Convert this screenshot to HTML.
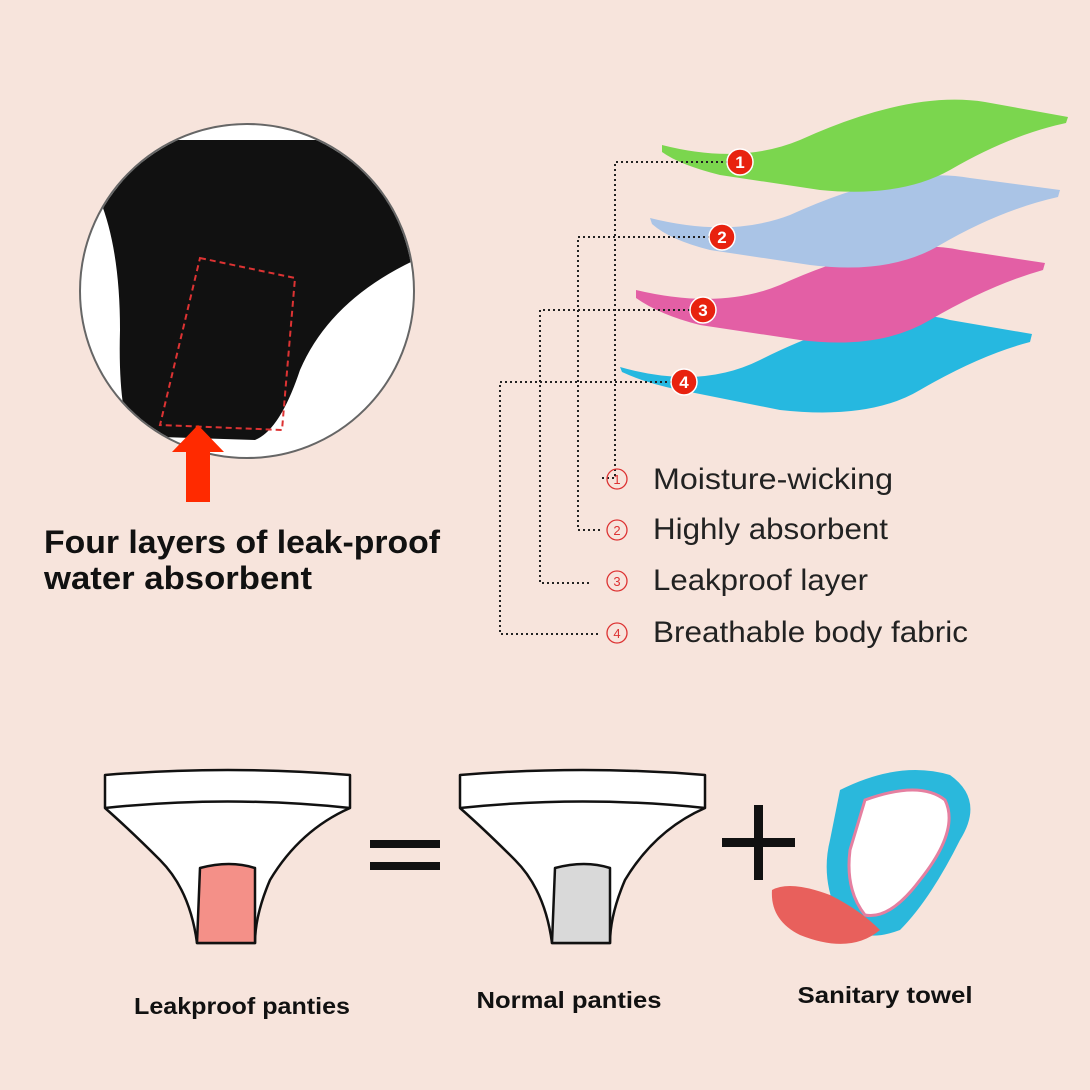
<!DOCTYPE html>
<html><head><meta charset="utf-8"><style>
html,body{margin:0;padding:0;background:#f7e4dc;}
svg{display:block}
text{font-family:"Liberation Sans","DejaVu Sans",sans-serif}
</style></head><body>
<svg width="1090" height="1090" viewBox="0 0 1090 1090" xmlns="http://www.w3.org/2000/svg">
<rect width="1090" height="1090" fill="#f7e4dc"/>
<defs><clipPath id="c"><circle cx="247" cy="291" r="166"/></clipPath></defs>
<circle cx="247" cy="291" r="167" fill="#fff" stroke="#666" stroke-width="2"/>
<g clip-path="url(#c)">
<path d="M100 140 L390 140 L415 260 Q330 300 300 370 Q280 430 255 440 L130 436 Q118 400 120 330 Q120 250 100 200 Z" fill="#111"/>
<path d="M200 258 L295 278 L282 430 L160 425 Z" fill="none" stroke="#d33" stroke-width="2" stroke-dasharray="6,4"/>
</g>
<polygon points="198,425 172,452 186,452 186,502 210,502 210,452 224,452" fill="#ff2a00"/>
<text x="44" y="553" font-size="32" font-weight="bold" fill="#111" textLength="396" lengthAdjust="spacingAndGlyphs">Four layers of leak-proof</text>
<text x="44" y="589" font-size="32" font-weight="bold" fill="#111" textLength="268" lengthAdjust="spacingAndGlyphs">water absorbent</text>
<!-- layers -->
<path d="M620 367 Q700 390 760 360 Q880 300 950 320 L1032 334 L1030 342 Q980 355 920 390 Q870 420 780 410 L690 392 Q650 385 622 372 Z" fill="#26b8e0"/>
<path d="M636 290 Q720 310 780 285 Q890 235 960 250 L1045 263 L1043 270 Q990 285 930 320 Q880 350 800 340 L700 325 Q660 315 636 298 Z" fill="#e35fa5"/>
<path d="M650 218 Q730 238 790 215 Q900 165 970 178 L1060 190 L1058 197 Q1000 210 940 245 Q890 275 810 265 L710 250 Q670 240 652 224 Z" fill="#aac4e6"/>
<path d="M662 145 Q740 165 800 140 Q910 90 985 102 L1068 117 L1066 123 Q1010 135 950 170 Q900 198 820 190 L720 175 Q680 165 662 152 Z" fill="#7bd64e"/>
<g fill="none" stroke="#222" stroke-width="2" stroke-dasharray="2,3">
<path d="M728 162 H615 V478 H600"/>
<path d="M710 237 H578 V530 H600"/>
<path d="M690 310 H540 V583 H590"/>
<path d="M672 382 H500 V634 H598"/>
</g>
<g fill="#e8220f" stroke="#fff" stroke-width="1.5">
<circle cx="740" cy="162" r="13"/><circle cx="722" cy="237" r="13"/><circle cx="703" cy="310" r="13"/><circle cx="684" cy="382" r="13"/>
</g>
<g fill="#fff" font-size="17" font-weight="bold" text-anchor="middle">
<text x="740" y="168">1</text><text x="722" y="243">2</text><text x="703" y="316">3</text><text x="684" y="388">4</text>
</g>
<g fill="none" stroke="#d33" stroke-width="1.3">
<circle cx="617" cy="479" r="10"/><circle cx="617" cy="530" r="10"/><circle cx="617" cy="581" r="10"/><circle cx="617" cy="633" r="10"/>
</g>
<g fill="#d33" font-size="13" text-anchor="middle">
<text x="617" y="484">1</text><text x="617" y="535">2</text><text x="617" y="586">3</text><text x="617" y="638">4</text>
</g>
<g fill="#222" font-size="30">
<text x="653" y="489" textLength="240" lengthAdjust="spacingAndGlyphs">Moisture-wicking</text>
<text x="653" y="539" textLength="235" lengthAdjust="spacingAndGlyphs">Highly absorbent</text>
<text x="653" y="590" textLength="215" lengthAdjust="spacingAndGlyphs">Leakproof layer</text>
<text x="653" y="642" textLength="315" lengthAdjust="spacingAndGlyphs">Breathable body fabric</text>
</g>
<!-- panties -->
<g stroke="#111" stroke-width="2.5" stroke-linejoin="round">
<path d="M105 775 Q228 765 350 775 L350 808 Q300 830 270 880 Q255 915 255 943 L197 943 Q190 890 160 860 Q130 830 105 808 Z" fill="#fff"/>
<path d="M105 808 Q228 795 350 808" fill="none"/>
<path d="M200 868 Q230 860 255 868 L255 943 L197 943 Z" fill="#f49088"/>
<path d="M460 775 Q583 765 705 775 L705 808 Q655 830 625 880 Q610 915 610 943 L552 943 Q545 890 515 860 Q485 830 460 808 Z" fill="#fff"/>
<path d="M460 808 Q583 795 705 808" fill="none"/>
<path d="M555 868 Q585 860 610 868 L610 943 L552 943 Z" fill="#d9d9d9"/>
</g>
<rect x="370" y="840" width="70" height="8" fill="#111"/><rect x="370" y="862" width="70" height="8" fill="#111"/>
<rect x="722" y="838" width="73" height="9" fill="#111"/><rect x="754" y="805" width="9" height="75" fill="#111"/>
<!-- pad -->
<path d="M840 790 Q900 760 950 775 Q985 800 960 840 Q930 900 900 930 Q860 945 840 920 Q820 880 830 840 Z" fill="#2ab8dc"/>
<path d="M865 800 Q920 780 945 800 Q960 830 920 880 Q890 920 865 915 Q845 890 850 850 Z" fill="#fff" stroke="#e57fa0" stroke-width="3"/>
<path d="M772 890 Q790 880 830 895 Q860 910 880 930 Q850 955 800 935 Q770 920 772 890 Z" fill="#e8605c"/>
<g font-size="23" font-weight="bold" fill="#111" text-anchor="middle">
<text x="242" y="1014" textLength="216" lengthAdjust="spacingAndGlyphs">Leakproof panties</text>
<text x="569" y="1008" textLength="185" lengthAdjust="spacingAndGlyphs">Normal panties</text>
<text x="885" y="1003" textLength="175" lengthAdjust="spacingAndGlyphs">Sanitary towel</text>
</g>
</svg>
</body></html>
